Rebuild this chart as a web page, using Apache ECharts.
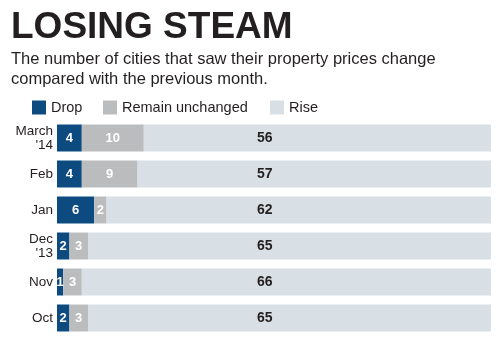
<!DOCTYPE html>
<html><head><meta charset="utf-8">
<script src="https://cdn.jsdelivr.net/npm/echarts@6/dist/echarts.min.js"></script>
<style>html,body{margin:0;padding:0;background:#fff}#c{width:500px;height:345px}</style>
</head><body><div id="c"></div>
<script>
const categories = ["March\n'14", "Feb", "Jan", "Dec\n'13", "Nov", "Oct"];
const dropValues = [4, 4, 6, 2, 1, 2];
const unchangedValues = [10, 9, 2, 3, 3, 3];
const riseValues = [56, 57, 62, 65, 66, 65];
const seriesNames = ["Drop", "Remain unchanged", "Rise"];
const axisMax = 70;

const totals = categories.map((_, i) => dropValues[i] + unchangedValues[i] + riseValues[i]);
const FONT = "'Liberation Sans', Arial, sans-serif";
const colors = ['#0c4a80', '#bbbcbe', '#d8e0e5'];

const chart = echarts.init(document.getElementById('c'), null, {renderer: 'canvas'});
const legendTextStyle = {fontFamily: FONT, fontSize: 14.5, color: '#231f20'};
function legend(name, left) {
  return {data: [name], left: left, top: 100, itemWidth: 14, itemHeight: 14, itemGap: 6,
    icon: 'rect', textStyle: legendTextStyle, selectedMode: false, padding: 0};
}
chart.setOption({
  animation: false,
  title: [
    {text: 'LOSING STEAM', left: 11, top: 9, padding: 0,
      textStyle: {fontFamily: FONT, fontWeight: 900, fontSize: 37, color: '#231f20'}},
    {text: 'The number of cities that saw their property prices change\ncompared with the previous month.',
      left: 11, top: 50, padding: 0,
      textStyle: {fontFamily: FONT, fontWeight: 'normal', fontSize: 16.5, lineHeight: 19.5, color: '#231f20'}}
  ],
  legend: [legend(seriesNames[0], 32), legend(seriesNames[1], 103), legend(seriesNames[2], 270)],
  grid: {left: 57, right: 9, top: 120, height: 216},
  xAxis: {type: 'value', min: 0, max: axisMax, show: false},
  yAxis: {type: 'category', data: categories, inverse: true,
    axisLine: {show: false}, axisTick: {show: false}, splitLine: {show: false},
    axisLabel: {fontFamily: FONT, fontSize: 13.5, lineHeight: 14, color: '#231f20', margin: 4}},
  series: [
    {name: seriesNames[0], type: 'bar', stack: 'a', data: dropValues, barWidth: 27,
      itemStyle: {color: colors[0]},
      label: {show: true, position: 'inside', color: '#fff', fontFamily: FONT, fontWeight: 'bold', fontSize: 13}},
    {name: seriesNames[1], type: 'bar', stack: 'a', data: unchangedValues, barWidth: 27,
      itemStyle: {color: colors[1]},
      label: {show: true, position: 'inside', color: '#fff', fontFamily: FONT, fontWeight: 'bold', fontSize: 13}},
    {name: seriesNames[2], type: 'bar', stack: 'a', data: riseValues, barWidth: 27,
      itemStyle: {color: colors[2]}, label: {show: false}},
    {name: 'riseLabel', type: 'bar', data: totals, barWidth: 27, barGap: '-100%', silent: true,
      itemStyle: {color: 'rgba(0,0,0,0)'},
      label: {show: true, position: [200, '50%'], align: 'left', verticalAlign: 'middle',
        formatter: p => riseValues[p.dataIndex],
        color: '#231f20', fontFamily: FONT, fontWeight: 'bold', fontSize: 14}}
  ]
});
</script></body></html>
